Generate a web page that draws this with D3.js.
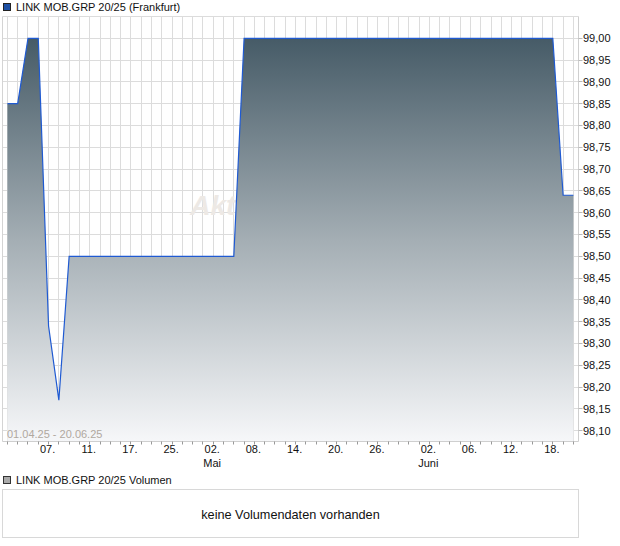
<!DOCTYPE html>
<html>
<head>
<meta charset="utf-8">
<script src="https://cdn.jsdelivr.net/npm/d3@7"></script>
<style>
  html, body { margin: 0; padding: 0; background: #fff; }
  svg { display: block; font-family: "Liberation Sans", Arial, sans-serif; }
</style>
</head>
<body>
<svg id="chart" width="620" height="546"></svg>
<script>
// ---- data ----
const title = "LINK MOB.GRP 20/25 (Frankfurt)";
const volumeTitle = "LINK MOB.GRP 20/25 Volumen";
const noVolumeText = "keine Volumendaten vorhanden";
const rangeLabel = "01.04.25 - 20.06.25";
const watermark = "Aktiencheck.de";

// trading days (Frankfurt), 01.04.25 - 20.06.25
const dates = [
  "01.04","02.04","03.04","04.04","07.04","08.04","09.04","10.04","11.04",
  "14.04","15.04","16.04","17.04","22.04","23.04","24.04","25.04","28.04","29.04","30.04",
  "02.05","05.05","06.05","07.05","08.05","09.05","12.05","13.05","14.05","15.05","16.05",
  "19.05","20.05","21.05","22.05","23.05","26.05","27.05","28.05","29.05","30.05",
  "02.06","03.06","04.06","05.06","06.06","09.06","10.06","11.06","12.06","13.06",
  "16.06","17.06","18.06","19.06","20.06"
];
const prices = [
  98.85, 98.85, 99.00, 99.00, 98.34, 98.17, 98.50, 98.50, 98.50,
  98.50, 98.50, 98.50, 98.50, 98.50, 98.50, 98.50, 98.50, 98.50, 98.50, 98.50,
  98.50, 98.50, 98.50, 99.00, 99.00, 99.00, 99.00, 99.00, 99.00, 99.00, 99.00,
  99.00, 99.00, 99.00, 99.00, 99.00, 99.00, 99.00, 99.00, 99.00, 99.00,
  99.00, 99.00, 99.00, 99.00, 99.00, 99.00, 99.00, 99.00, 99.00, 99.00,
  99.00, 99.00, 99.00, 98.64, 98.64
];
const xTickLabels = ["07.","11.","17.","25.","02.","08.","14.","20.","26.","02.","06.","12.","18."];
const xTickDates  = ["07.04","11.04","17.04","25.04","02.05","08.05","14.05","20.05","26.05","02.06","06.06","12.06","18.06"];
const monthLabels = ["Mai","Juni"];
const monthDates  = ["02.05","02.06"];
const yTicks = [98.10,98.15,98.20,98.25,98.30,98.35,98.40,98.45,98.50,98.55,98.60,98.65,98.70,98.75,98.80,98.85,98.90,98.95,99.00];
const yTop = 99.05;

// ---- layout ----
const svg = d3.select("#chart");
const frame = { left: 2.5, right: 578.5, top: 16.5, bottom: 441.5 };

const x = d3.scaleLinear().domain([0, dates.length - 1]).range([7.4, 573.4]);
const y = d3.scaleLinear().domain([98.10, 99.00]).range([430.7, 38.3]);
const px = v => Math.floor(v) + 0.5;

const defs = svg.append("defs");
const grad = defs.append("linearGradient")
  .attr("id", "areaGrad").attr("gradientUnits", "userSpaceOnUse")
  .attr("x1", 0).attr("x2", 0).attr("y1", y(99.00)).attr("y2", frame.bottom);
grad.append("stop").attr("offset", "0%").attr("stop-color", "#465b67");
grad.append("stop").attr("offset", "50%").attr("stop-color", "#a4aeb4");
grad.append("stop").attr("offset", "100%").attr("stop-color", "#f6f7f9");

// title legend
svg.append("rect").attr("x", 3.5).attr("y", 3.5).attr("width", 7).attr("height", 7)
  .attr("fill", "#1d4fa3").attr("stroke", "#222").attr("stroke-width", 1);
svg.append("text").attr("x", 16).attr("y", 11).attr("font-size", 11).attr("fill", "#111").text(title);

// grid
const g = svg.append("g");
g.selectAll("line.hg").data(yTicks.concat([yTop])).join("line")
  .attr("x1", frame.left).attr("x2", frame.right)
  .attr("y1", d => d === yTop ? frame.top : px(y(d)))
  .attr("y2", d => d === yTop ? frame.top : px(y(d)))
  .attr("stroke", "#dcdcdc").attr("stroke-width", 1);
g.selectAll("line.vg").data(d3.range(dates.length)).join("line")
  .attr("x1", i => px(x(i))).attr("x2", i => px(x(i)))
  .attr("y1", frame.top).attr("y2", frame.bottom)
  .attr("stroke", "#dcdcdc").attr("stroke-width", 1);
g.append("line").attr("x1", frame.left).attr("x2", frame.left)
  .attr("y1", frame.top).attr("y2", frame.bottom).attr("stroke", "#d4d4d4");

// watermark
svg.append("text").attr("x", 293).attr("y", 215).attr("text-anchor", "middle")
  .attr("font-size", 28).attr("font-weight", "bold").attr("font-style", "italic")
  .attr("fill", "#ede9e5").text(watermark);

// area + line
const area = d3.area().x((d, i) => x(i)).y0(frame.bottom).y1(d => y(d));
svg.append("path").datum(prices).attr("d", area).attr("fill", "url(#areaGrad)");
const line = d3.line().x((d, i) => x(i)).y(d => y(d));
svg.append("path").datum(prices).attr("d", line).attr("fill", "none")
  .attr("stroke", "#1f5ad2").attr("stroke-width", 1.2);

// range label
svg.append("text").attr("x", 7).attr("y", 438).attr("font-size", 11)
  .attr("fill", "#b0a89f").text(rangeLabel);

// right axis
svg.append("line").attr("x1", frame.right).attr("x2", frame.right)
  .attr("y1", frame.top).attr("y2", frame.bottom).attr("stroke", "#cfcfcf");
const ya = svg.append("g");
ya.selectAll("line").data(yTicks).join("line")
  .attr("x1", frame.right).attr("x2", frame.right + 4)
  .attr("y1", d => px(y(d))).attr("y2", d => px(y(d))).attr("stroke", "#bbb");
ya.selectAll("text").data(yTicks).join("text")
  .attr("x", 583).attr("y", d => y(d)).attr("dy", "0.36em")
  .attr("font-size", 11).attr("fill", "#111")
  .text(d => d3.format(".2f")(d).replace(".", ","));

// bottom axis
svg.append("line").attr("x1", frame.left).attr("x2", frame.right)
  .attr("y1", frame.bottom).attr("y2", frame.bottom).attr("stroke", "#cfcfcf");
const xa = svg.append("g");
xa.selectAll("line").data(d3.range(dates.length)).join("line")
  .attr("x1", i => px(x(i))).attr("x2", i => px(x(i)))
  .attr("y1", frame.bottom).attr("y2", frame.bottom + 3).attr("stroke", "#999");
xa.selectAll("text.tl").data(xTickDates).join("text")
  .attr("x", d => x(dates.indexOf(d)) - 1).attr("y", 453).attr("text-anchor", "middle")
  .attr("font-size", 11).attr("fill", "#111")
  .text((d, i) => xTickLabels[i]);
svg.append("g").selectAll("text").data(monthDates).join("text")
  .attr("x", d => x(dates.indexOf(d)) - 1).attr("y", 467).attr("text-anchor", "middle")
  .attr("font-size", 11).attr("fill", "#111")
  .text((d, i) => monthLabels[i]);

// volume panel
svg.append("rect").attr("x", 3.5).attr("y", 476.5).attr("width", 7).attr("height", 7)
  .attr("fill", "#aaa").attr("stroke", "#333").attr("stroke-width", 1);
svg.append("text").attr("x", 16).attr("y", 484).attr("font-size", 11).attr("fill", "#111").text(volumeTitle);
svg.append("rect").attr("x", 2.5).attr("y", 489.5).attr("width", 576).attr("height", 48)
  .attr("fill", "#fff").attr("stroke", "#d8d8d8");
svg.append("text").attr("x", 290.5).attr("y", 518.5).attr("text-anchor", "middle")
  .attr("font-size", 12.7).attr("fill", "#111").text(noVolumeText);
</script>
</body>
</html>
